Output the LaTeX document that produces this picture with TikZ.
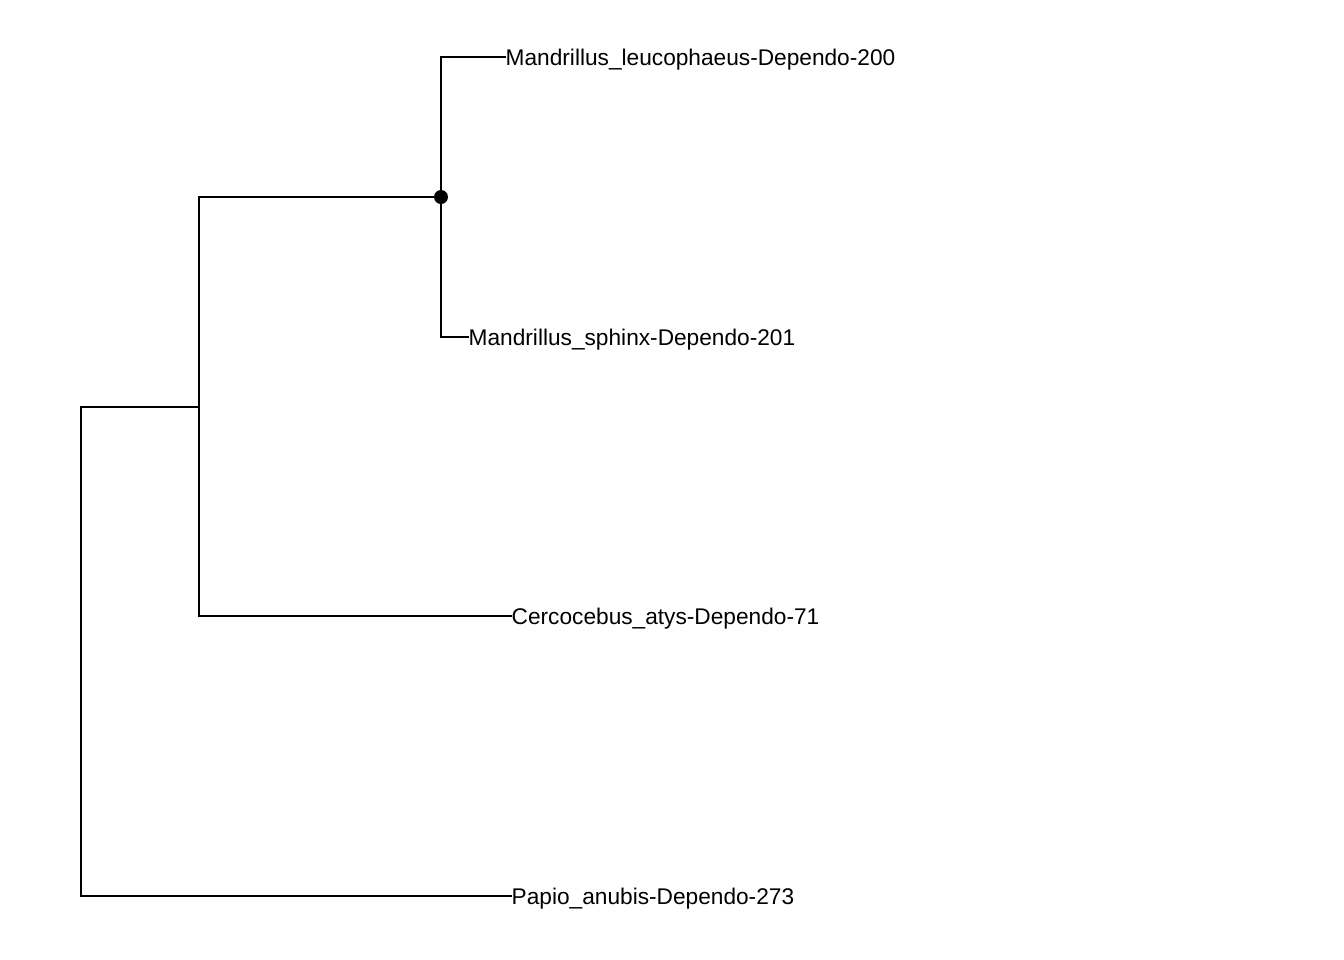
\documentclass[tikz,border=0pt]{standalone}
\usepackage{fontspec}
\setmainfont{Liberation Sans}
\begin{document}
\begin{tikzpicture}[x=0.01cm,y=-0.01cm]
		\useasboundingbox (0,0) rectangle (1344,960);
		\tikzset{branch/.style={line width=0.8pt,line cap=rect},
			tip/.style={anchor=west,inner sep=0pt,text depth=0pt,font=\fontsize{6.45}{7.5}\selectfont}}
		\coordinate (R) at (81,407);
		\coordinate (A) at (199,407);
		\coordinate (B) at (441,197);
		\node[tip] (L1) at (505,57) {Mandrillus\_leucophaeus-Dependo-200};
		\node[tip] (L2) at (468,337) {Mandrillus\_sphinx-Dependo-201};
		\node[tip] (L3) at (511,616) {Cercocebus\_atys-Dependo-71};
		\node[tip] (L4) at (511,896) {Papio\_anubis-Dependo-273};
		\draw[branch] (L4.west) -| (R) -- (A);
		\draw[branch] (L3.west) -| (A) |- (B);
		\draw[branch] (L1.west) -| (B) |- (L2.west);
		\fill (B) circle (7);
	\end{tikzpicture}
\end{document}
